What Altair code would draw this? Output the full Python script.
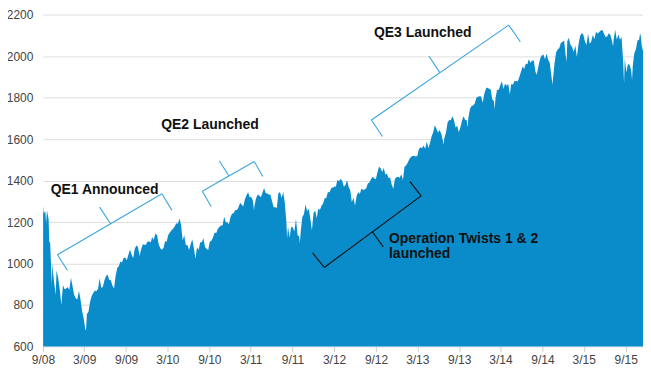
import altair as alt
import pandas as pd

# ---- S&P 500 (approx. weekly closes) ----
spx_2008 = [("2008-09-02",1277),("2008-09-05",1242),("2008-09-12",1252),("2008-09-15",1192),("2008-09-19",1255),("2008-09-26",1213),("2008-09-29",1106),("2008-10-03",1099),("2008-10-10",899),("2008-10-13",1003),("2008-10-17",940),("2008-10-24",876),("2008-10-27",848),("2008-10-31",968),("2008-11-07",930),("2008-11-14",873),("2008-11-21",800),("2008-11-28",896),("2008-12-05",876),("2008-12-12",879),("2008-12-19",887),("2008-12-26",872)]
spx_2009 = [("2009-01-02",931),("2009-01-09",890),("2009-01-16",850),("2009-01-23",832),("2009-01-30",826),("2009-02-06",869),("2009-02-13",826),("2009-02-20",770),("2009-02-27",735),("2009-03-06",683),("2009-03-09",677),("2009-03-13",757),("2009-03-20",768),("2009-03-27",816),("2009-04-03",843),("2009-04-09",857),("2009-04-17",870),("2009-04-24",866),("2009-05-01",878),("2009-05-08",929),("2009-05-15",883),("2009-05-22",887),("2009-05-29",919),("2009-06-05",940),("2009-06-12",946),("2009-06-19",921),("2009-06-26",919),("2009-07-02",896),("2009-07-10",880),("2009-07-17",940),("2009-07-24",979),("2009-07-31",987),("2009-08-07",1010),("2009-08-14",1005),("2009-08-21",1026),("2009-08-28",1029),("2009-09-04",1016),("2009-09-11",1042),("2009-09-18",1068),("2009-09-25",1044),("2009-10-02",1025),("2009-10-09",1071),("2009-10-16",1087),("2009-10-23",1080),("2009-10-30",1036),("2009-11-06",1069),("2009-11-13",1093),("2009-11-20",1091),("2009-11-27",1091),("2009-12-04",1106),("2009-12-11",1106),("2009-12-18",1102),("2009-12-24",1127),("2009-12-31",1115)]
spx_2010 = [("2010-01-08",1145),("2010-01-15",1136),("2010-01-22",1092),("2010-01-29",1074),("2010-02-05",1066),("2010-02-12",1075),("2010-02-19",1109),("2010-02-26",1105),("2010-03-05",1139),("2010-03-12",1150),("2010-03-19",1160),("2010-03-26",1167),("2010-04-02",1179),("2010-04-09",1194),("2010-04-16",1192),("2010-04-23",1217),("2010-04-30",1187),("2010-05-07",1111),("2010-05-14",1136),("2010-05-21",1088),("2010-05-28",1089),("2010-06-04",1065),("2010-06-11",1092),("2010-06-18",1117),("2010-06-25",1076),("2010-07-02",1023),("2010-07-09",1078),("2010-07-16",1065),("2010-07-23",1102),("2010-07-30",1102),("2010-08-06",1122),("2010-08-13",1080),("2010-08-20",1071),("2010-08-27",1065),("2010-09-03",1105),("2010-09-10",1110),("2010-09-17",1125),("2010-09-24",1149),("2010-10-01",1146),("2010-10-08",1166),("2010-10-15",1176),("2010-10-22",1183),("2010-10-29",1183),("2010-11-05",1225),("2010-11-12",1199),("2010-11-19",1199),("2010-11-26",1189),("2010-12-03",1225),("2010-12-10",1240),("2010-12-17",1244),("2010-12-23",1257),("2010-12-31",1258)]
spx_2011 = [("2011-01-07",1271),("2011-01-14",1293),("2011-01-21",1283),("2011-01-28",1276),("2011-02-04",1310),("2011-02-11",1329),("2011-02-18",1343),("2011-02-25",1320),("2011-03-04",1321),("2011-03-11",1304),("2011-03-16",1257),("2011-03-18",1279),("2011-03-25",1314),("2011-04-01",1332),("2011-04-08",1328),("2011-04-15",1320),("2011-04-21",1337),("2011-04-29",1364),("2011-05-06",1340),("2011-05-13",1338),("2011-05-20",1333),("2011-05-27",1331),("2011-06-03",1300),("2011-06-10",1271),("2011-06-17",1271),("2011-06-24",1268),("2011-07-01",1340),("2011-07-08",1344),("2011-07-15",1316),("2011-07-22",1345),("2011-07-29",1292),("2011-08-05",1199),("2011-08-08",1119),("2011-08-12",1179),("2011-08-19",1124),("2011-08-26",1177),("2011-09-02",1174),("2011-09-09",1154),("2011-09-16",1216),("2011-09-23",1136),("2011-09-30",1131),("2011-10-03",1099),("2011-10-07",1155),("2011-10-14",1225),("2011-10-21",1238),("2011-10-28",1285),("2011-11-04",1253),("2011-11-11",1263),("2011-11-18",1216),("2011-11-25",1159),("2011-12-02",1244),("2011-12-09",1255),("2011-12-16",1219),("2011-12-23",1265),("2011-12-30",1258)]
spx_2012 = [("2012-01-06",1278),("2012-01-13",1289),("2012-01-20",1315),("2012-01-27",1316),("2012-02-03",1345),("2012-02-10",1343),("2012-02-17",1361),("2012-02-24",1366),("2012-03-02",1370),("2012-03-09",1371),("2012-03-16",1404),("2012-03-23",1397),("2012-03-30",1408),("2012-04-06",1398),("2012-04-13",1370),("2012-04-20",1379),("2012-04-27",1403),("2012-05-04",1369),("2012-05-11",1353),("2012-05-18",1295),("2012-05-25",1318),("2012-06-01",1278),("2012-06-08",1325),("2012-06-15",1343),("2012-06-22",1335),("2012-06-29",1362),("2012-07-06",1354),("2012-07-13",1357),("2012-07-20",1362),("2012-07-27",1386),("2012-08-03",1391),("2012-08-10",1406),("2012-08-17",1418),("2012-08-24",1411),("2012-08-31",1406),("2012-09-07",1438),("2012-09-14",1466),("2012-09-21",1460),("2012-09-28",1441),("2012-10-05",1460),("2012-10-12",1429),("2012-10-19",1433),("2012-10-26",1412),("2012-11-02",1414),("2012-11-09",1380),("2012-11-16",1360),("2012-11-23",1409),("2012-11-30",1416),("2012-12-07",1418),("2012-12-14",1413),("2012-12-21",1430),("2012-12-28",1402)]
spx_2013 = [("2013-01-04",1466),("2013-01-11",1472),("2013-01-18",1486),("2013-01-25",1503),("2013-02-01",1513),("2013-02-08",1518),("2013-02-15",1520),("2013-02-22",1516),("2013-03-01",1518),("2013-03-08",1551),("2013-03-15",1561),("2013-03-22",1556),("2013-03-28",1569),("2013-04-05",1553),("2013-04-12",1588),("2013-04-19",1555),("2013-04-26",1582),("2013-05-03",1614),("2013-05-10",1633),("2013-05-17",1667),("2013-05-24",1650),("2013-05-31",1631),("2013-06-07",1643),("2013-06-14",1626),("2013-06-21",1593),("2013-06-24",1573),("2013-06-28",1606),("2013-07-05",1632),("2013-07-12",1680),("2013-07-19",1692),("2013-07-26",1691),("2013-08-02",1710),("2013-08-09",1691),("2013-08-16",1655),("2013-08-23",1664),("2013-08-30",1633),("2013-09-06",1655),("2013-09-13",1688),("2013-09-20",1710),("2013-09-27",1692),("2013-10-04",1690),("2013-10-08",1656),("2013-10-11",1703),("2013-10-18",1745),("2013-10-25",1759),("2013-11-01",1762),("2013-11-08",1771),("2013-11-15",1798),("2013-11-22",1804),("2013-11-29",1806),("2013-12-06",1805),("2013-12-13",1775),("2013-12-20",1818),("2013-12-27",1842),("2013-12-31",1848)]
spx_2014 = [("2014-01-10",1842),("2014-01-17",1839),("2014-01-24",1790),("2014-01-31",1783),("2014-02-03",1742),("2014-02-07",1797),("2014-02-14",1838),("2014-02-21",1836),("2014-02-28",1859),("2014-03-07",1878),("2014-03-14",1841),("2014-03-21",1866),("2014-03-28",1857),("2014-04-04",1865),("2014-04-11",1816),("2014-04-17",1864),("2014-04-25",1863),("2014-05-02",1881),("2014-05-09",1878),("2014-05-16",1878),("2014-05-23",1900),("2014-05-30",1924),("2014-06-06",1950),("2014-06-13",1937),("2014-06-20",1963),("2014-06-27",1961),("2014-07-03",1985),("2014-07-11",1968),("2014-07-18",1978),("2014-07-25",1978),("2014-08-01",1925),("2014-08-07",1910),("2014-08-15",1955),("2014-08-22",1988),("2014-08-29",2003),("2014-09-05",2008),("2014-09-12",1985),("2014-09-19",2011),("2014-09-26",1982),("2014-10-03",1968),("2014-10-10",1906),("2014-10-15",1862),("2014-10-17",1887),("2014-10-24",1965),("2014-10-31",2018),("2014-11-07",2032),("2014-11-14",2039),("2014-11-21",2064),("2014-11-28",2068),("2014-12-05",2075),("2014-12-12",2002),("2014-12-16",1973),("2014-12-19",2071),("2014-12-26",2088),("2014-12-31",2059)]
spx_2015 = [("2015-01-09",2044),("2015-01-16",2019),("2015-01-23",2051),("2015-01-30",1995),("2015-02-06",2055),("2015-02-13",2097),("2015-02-20",2110),("2015-02-27",2105),("2015-03-06",2071),("2015-03-13",2053),("2015-03-20",2108),("2015-03-27",2061),("2015-04-02",2067),("2015-04-10",2102),("2015-04-17",2081),("2015-04-24",2117),("2015-05-01",2108),("2015-05-08",2116),("2015-05-15",2123),("2015-05-22",2126),("2015-05-29",2107),("2015-06-05",2092),("2015-06-12",2094),("2015-06-19",2110),("2015-06-26",2102),("2015-07-02",2077),("2015-07-08",2047),("2015-07-10",2077),("2015-07-17",2127),("2015-07-24",2079),("2015-07-31",2104),("2015-08-07",2078),("2015-08-14",2092),("2015-08-21",1971),("2015-08-25",1868),("2015-08-28",1989),("2015-09-04",1921),("2015-09-11",1962),("2015-09-18",1958),("2015-09-25",1932),("2015-09-29",1884),("2015-10-02",1951),("2015-10-09",2015),("2015-10-16",2033),("2015-10-23",2075),("2015-10-30",2079),("2015-11-03",2109),("2015-11-06",2099),("2015-11-13",2023),("2015-11-16",2053)]

# ---- axis ----
y_ticks = [600, 800, 1000, 1200, 1400, 1600, 1800, 2000, 2200]
x_tick_months = [(2008, 9), (2009, 3), (2009, 9), (2010, 3), (2010, 9), (2011, 3), (2011, 9), (2012, 3),
                 (2012, 9), (2013, 3), (2013, 9), (2014, 3), (2014, 9), (2015, 3), (2015, 9)]
x_start = (2008, 9, 1)
x_end = (2015, 11, 16)

# ---- annotations: brackets (days after 2008-09-01, index level) ----
# points per bracket: end A, end B, tick-end A, tick-end B, middle, middle-tick end
bracket_names = ["QE1", "QE2", "QE3", "Twist"]
bracket_kind = ["qe", "qe", "qe", "twist"]
bracket_days = [
    [64, 522, 108, 566, 296, 249],
    [699, 927, 738, 964, 815, 774],
    [1441, 2043, 1489, 2094, 1741, 1693],
    [1234, 1659, 1183, 1610, 1445, 1493],
]
bracket_vals = [
    [1042, 1336, 966, 1256, 1193, 1272],
    [1348, 1492, 1275, 1419, 1423, 1495],
    [1692, 2149, 1612, 2069, 1920, 2000],
    [981, 1326, 1051, 1395, 1153, 1080],
]
label_text = ["QE1 Announced", "QE2 Launched", "QE3 Launched", "Operation Twists 1 & 2", "launched"]
label_days = [34, 519, 1452, 1518, 1518]
label_vals = [1355, 1668, 2110, 1119, 1045]

# ---- build tables ----
rows = spx_2008 + spx_2009 + spx_2010 + spx_2011 + spx_2012 + spx_2013 + spx_2014 + spx_2015
df = pd.DataFrame(rows, columns=["date", "close"])
df["date"] = pd.to_datetime(df["date"])

base = pd.Timestamp("2008-09-01")
seg_pairs = [(0, 1), (0, 2), (1, 3), (4, 5)]
segs = []
for name, kind, ds, vs in zip(bracket_names, bracket_kind, bracket_days, bracket_vals):
    for a, b in seg_pairs:
        segs.append({
            "x": base + pd.Timedelta(days=ds[a]), "y": vs[a],
            "x2": base + pd.Timedelta(days=ds[b]), "y2": vs[b],
            "kind": kind,
        })
seg_df = pd.DataFrame(segs)
lab_df = pd.DataFrame({
    "x": [base + pd.Timedelta(days=d) for d in label_days],
    "y": label_vals,
    "label": label_text,
})

x_scale = alt.Scale(domain=[alt.DateTime(year=x_start[0], month=x_start[1], date=x_start[2]),
                            alt.DateTime(year=x_end[0], month=x_end[1], date=x_end[2])])
y_scale = alt.Scale(domain=[600, 2200], nice=False, zero=False)

x_axis = alt.Axis(
    title=None, values=[alt.DateTime(year=y, month=m, date=1) for y, m in x_tick_months],
    format="%-m/%y", grid=False, domain=False, ticks=True, tickColor="#cccccc", tickSize=5,
    labelPadding=3, labelFlush=False, labelFont="Liberation Sans", labelFontSize=12,
    labelColor="#444444",
)
y_axis = alt.Axis(
    title=None, values=y_ticks, format="d", grid=True, gridColor="#dddddd", domain=False,
    ticks=False, tickSize=0, labelPadding=10, labelFlush=False, labelFont="Liberation Sans",
    labelFontSize=12, labelColor="#444444",
)

area = alt.Chart(df).mark_area(color="#0a8bca", interpolate="linear").encode(
    x=alt.X("date:T", scale=x_scale, axis=x_axis),
    y=alt.Y("close:Q", scale=y_scale, axis=y_axis),
    y2=alt.datum(600),
)

rules = alt.Chart(seg_df).mark_rule(strokeWidth=1.1).encode(
    x=alt.X("x:T", scale=x_scale),
    y=alt.Y("y:Q", scale=y_scale),
    x2="x2:T",
    y2="y2:Q",
    color=alt.Color("kind:N", scale=alt.Scale(domain=["qe", "twist"], range=["#3aa6dc", "#111111"]), legend=None),
)

labels = alt.Chart(lab_df).mark_text(
    align="left", baseline="middle", font="Liberation Sans", fontSize=14, fontWeight="bold", color="#111111"
).encode(
    x=alt.X("x:T", scale=x_scale),
    y=alt.Y("y:Q", scale=y_scale),
    text="label:N",
)

chart = alt.layer(area, rules, labels).properties(
    width=602, height=333,
    autosize=alt.AutoSizeParams(type="none"),
    padding={"left": 35, "top": 6, "right": 0, "bottom": 25},
).configure_view(stroke=None)

chart.save("out.html", embed_options={"renderer": "svg", "actions": False})
